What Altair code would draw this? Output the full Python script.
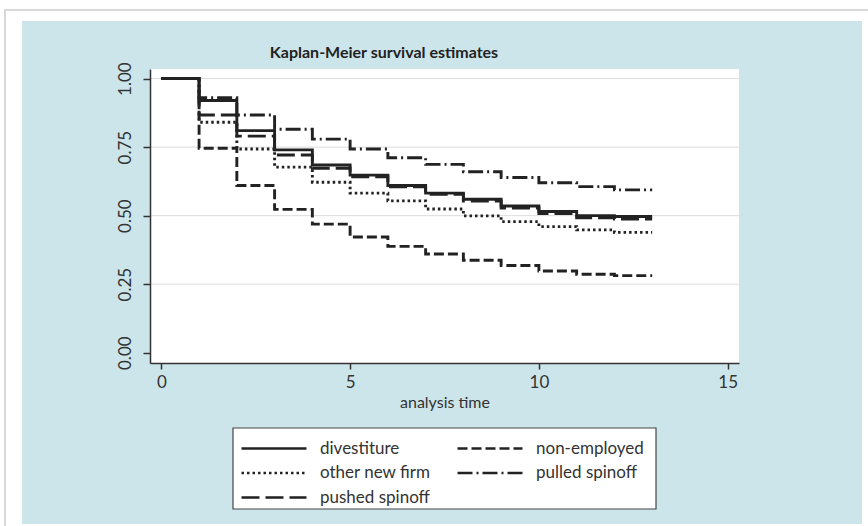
import altair as alt
import pandas as pd

# ---- data ----
times = list(range(14))
# legend fills column-major: col 1 = first three, col 2 = last two
series_names = ["divestiture", "other new firm", "pushed spinoff", "non-employed", "pulled spinoff"]
divestiture = [1.00, 0.92, 0.81, 0.74, 0.685, 0.648, 0.61, 0.582, 0.56, 0.535, 0.515, 0.50, 0.497, 0.497]
other_new_firm = [1.00, 0.841, 0.743, 0.677, 0.622, 0.582, 0.554, 0.524, 0.499, 0.478, 0.46, 0.448, 0.439, 0.439]
pushed_spinoff = [1.00, 0.867, 0.79, 0.721, 0.673, 0.642, 0.605, 0.578, 0.553, 0.528, 0.508, 0.492, 0.488, 0.488]
non_employed = [1.00, 0.746, 0.61, 0.523, 0.469, 0.422, 0.388, 0.36, 0.337, 0.318, 0.298, 0.286, 0.281, 0.281]
pulled_spinoff = [1.00, 0.93, 0.867, 0.815, 0.779, 0.743, 0.711, 0.687, 0.66, 0.639, 0.62, 0.606, 0.594, 0.594]
x_ticks = [0, 5, 10, 15]
y_ticks = [0, 0.25, 0.5, 0.75, 1.0]
grid_values = [0.25, 0.5, 0.75, 1.0]
title_text = ["Kaplan-Meier survival estimates"]

values_by_name = {
    "divestiture": divestiture,
    "non-employed": non_employed,
    "other new firm": other_new_firm,
    "pulled spinoff": pulled_spinoff,
    "pushed spinoff": pushed_spinoff,
}
rows = []
for name in series_names:
    for t, v in zip(times, values_by_name[name]):
        rows.append({"time": t, "surv": v, "group": name})
df = pd.DataFrame(rows)

W, H = 589, 294
FONT = "Lato"
INK = "#222222"

dash_range = [[1, 0], [2.5, 3], [18, 6], [10, 4], [15, 4, 2, 4]]

one = pd.DataFrame({"a": [0]})

page = alt.Chart(one).mark_rect(fill="white", stroke="#d9d9d9", strokeWidth=2).encode(
    x=alt.value(-145), x2=alt.value(760), y=alt.value(-59), y2=alt.value(490)
)
panel = alt.Chart(one).mark_rect(fill="#cce5ea").encode(
    x=alt.value(-128), x2=alt.value(712), y=alt.value(-48), y2=alt.value(455)
)
plotbg = alt.Chart(one).mark_rect(fill="white").encode(
    x=alt.value(0), x2=alt.value(W), y=alt.value(0), y2=alt.value(H)
)
legend_box = alt.Chart(one).mark_rect(fill="white", stroke="#444444", strokeWidth=1.2).encode(
    x=alt.value(83), x2=alt.value(506), y=alt.value(359), y2=alt.value(440)
)
title = alt.Chart(pd.DataFrame({"t": title_text})).mark_text(
    font=FONT, fontSize=16, fontWeight="bold", color=INK, align="center", baseline="alphabetic"
).encode(text="t:N", x=alt.value(234), y=alt.value(-11))

yscale = alt.Scale(domain=[-0.0376, 1.035], nice=False, zero=False)
xscale = alt.Scale(domain=[-0.3, 15.3], nice=False, zero=False)
y_axis = alt.Axis(values=y_ticks, title=None, grid=False, tickSize=7, format=".2f",
                  labelAngle=270, labelAlign="center", labelBaseline="bottom",
                  labelPadding=9, zindex=1)

grid = alt.Chart(pd.DataFrame({"g": grid_values})).mark_rule(color="#dcdcdc", strokeWidth=1).encode(
    y=alt.Y("g:Q", scale=yscale, axis=y_axis),
    x=alt.value(0), x2=alt.value(W),
)

lines = alt.Chart(df).mark_line(interpolate="step-after", strokeWidth=2.9, color=INK).encode(
    x=alt.X("time:Q", scale=xscale,
            axis=alt.Axis(values=x_ticks, title="analysis time", grid=False, tickSize=6,
                          labelPadding=5, titlePadding=4, zindex=1, format="d")),
    y=alt.Y("surv:Q", scale=yscale, axis=y_axis),
    strokeDash=alt.StrokeDash("group:N",
        scale=alt.Scale(domain=series_names, range=dash_range),
        sort=series_names,
        legend=alt.Legend(title=None, orient="none", legendX=90, legendY=369.5, columns=2,
                          symbolType="stroke", symbolSize=4225, symbolStrokeWidth=2.6,
                          symbolStrokeColor=INK, labelFontSize=17, labelFont=FONT,
                          labelColor="#333333", labelOffset=12, columnPadding=25,
                          clipHeight=20, rowPadding=4.5, padding=0)),
    detail="group:N",
)

chart = alt.layer(page, panel, plotbg, legend_box, title, grid, lines).properties(
    width=W, height=H,
    autosize=alt.AutoSizeParams(type="none"),
    padding={"left": 150, "top": 69, "right": 129, "bottom": 163},
).configure(background="white").configure_view(stroke=None, fill=None).configure_axis(
    domainColor="#333333", domainWidth=1.5, tickColor="#333333", tickWidth=1.5,
    labelFont=FONT, labelFontSize=17, labelColor="#333333",
    titleFont=FONT, titleFontSize=16, titleColor="#333333", titleFontWeight="normal",
)

chart.save("out.html", embed_options={"renderer": "svg", "actions": False})
